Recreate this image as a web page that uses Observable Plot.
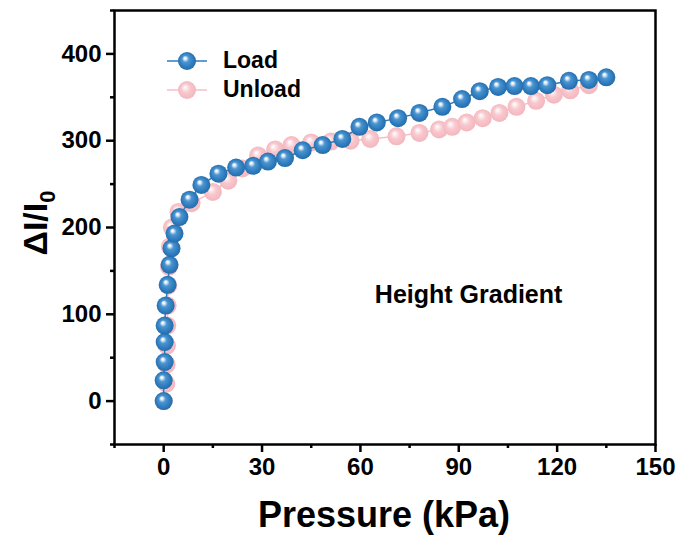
<!DOCTYPE html>
<html>
<head>
<meta charset="utf-8">
<script src="https://cdn.jsdelivr.net/npm/d3@7"></script>
<script src="https://cdn.jsdelivr.net/npm/@observablehq/plot@0.6"></script>
<style>
  html, body { margin: 0; padding: 0; background: #fff; }
  #wrap { position: relative; width: 678px; height: 542px; font-family: "Liberation Sans", Arial, sans-serif; }
  #legend { position: absolute; left: 165px; top: 46px; font-weight: bold; font-size: 23px; color: #000; }
  .lg-row { display: flex; align-items: center; height: 29px; }
  .lg-row svg { margin-right: 14px; }
</style>
</head>
<body>
<div id="wrap">
  <div id="chart"></div>
  <div id="legend"></div>
</div>
<script>
// ---- data ----
const loadPressure = [0,0,0.3,0.3,0.3,0.6,1.2,1.8,2.4,3.3,4.8,7.9,11.5,16.7,22.1,27.3,31.8,37,42.4,48.5,54.5,59.7,65,71.5,78,85,91,96.4,102,107,112,117,123.6,129.7,135];
const loadResponse = [0,24,45,68,87,110,134,157,176,193,212,232,249,262,269,271,276,280,289,295,302,316,321,326,332,339,348,357,362,363,363,364,369,370,373];
const unloadPressure = [0,0.8,0.9,1.0,1.1,1.2,1.4,1.6,1.9,2.5,4.5,8.5,15,19.7,24,28.8,34,39,45,51,57,63,71,78,84,88,92.4,97.3,102.4,107.6,113.6,119,124,129.7];
const unloadResponse = [0,20,42,64,87,110,133,155,178,200,218,228,241,254,268,283,290,295,298,299,300,302,305,309,313,316,321,326,332,339,346,353,358,364];
const seriesNames = ["Load", "Unload"];
const xTicks = [0,30,60,90,120,150];
const xMinorTicks = [-15,15,45,75,105,135];
const yTicks = [0,100,200,300,400];
const yMinorTicks = [-50,50,150,250,350,450];
const annotation = [{label: "Height Gradient", x: 93, y: 122}];

const colors = {Load: "#2e7cbf", Unload: "#f6bfc6"};
const grads = {Load: "gLoad", Unload: "gUnload"};
const gradStops = {
  Load: [["0%", "#ffffff"], ["12%", "#e6f0fa"], ["35%", "#4b95d0"], ["70%", "#2e7cbf"], ["100%", "#23679f"]],
  Unload: [["0%", "#ffffff"], ["15%", "#fdeef0"], ["45%", "#f8c8ce"], ["100%", "#f3b3bb"]]
};

const loadData = loadPressure.map((p, i) => ({p, v: loadResponse[i]}));
const unloadData = unloadPressure.map((p, i) => ({p, v: unloadResponse[i]}));

const tickFont = {fontSize: 24, fontWeight: "bold", fontFamily: "'Liberation Sans Narrow', 'Arial Narrow', 'Liberation Sans', Arial, sans-serif"};

const chart = Plot.plot({
  width: 678,
  height: 542,
  marginLeft: 114,
  marginRight: 23,
  marginTop: 10,
  marginBottom: 98,
  style: {background: "#fff", color: "#000", fontFamily: "'Liberation Sans', Arial, sans-serif"},
  x: {domain: [-15, 150]},
  y: {domain: [-50, 450]},
  marks: [
    Plot.line(unloadData, {x: "p", y: "v", stroke: colors.Unload, strokeWidth: 1.5}),
    Plot.dot(unloadData, {x: "p", y: "v", r: 9, fill: `url(#${grads.Unload})`, stroke: "none"}),
    Plot.line(loadData, {x: "p", y: "v", stroke: colors.Load, strokeWidth: 1.5}),
    Plot.dot(loadData, {x: "p", y: "v", r: 9, fill: `url(#${grads.Load})`, stroke: "none"}),
    Plot.text(annotation, {x: "x", y: "y", text: "label", fontSize: 25, fontWeight: "bold", fill: "#000"}),
    Plot.frame({stroke: "#000", strokeWidth: 2.5}),
    Plot.axisX({ticks: xTicks, tickSize: 8, tickPadding: 5, strokeWidth: 2.5, label: null, ...tickFont}),
    Plot.axisX({ticks: xMinorTicks, tickSize: 4, strokeWidth: 2.5, text: null, label: null}),
    Plot.axisY({ticks: yTicks, tickSize: 8, tickPadding: 5, strokeWidth: 2.5, label: null, ...tickFont}),
    Plot.axisY({ticks: yMinorTicks, tickSize: 4, strokeWidth: 2.5, text: null, label: null})
  ]
});

// sphere-like gradients
const svg = d3.select(chart);
const defs = svg.insert("defs", ":first-child");
function addGrad(sel, id, stops) {
  const g = sel.append("radialGradient").attr("id", id)
    .attr("cx", "50%").attr("cy", "50%").attr("r", "55%")
    .attr("fx", "38%").attr("fy", "33%");
  stops.forEach(([o, c]) => g.append("stop").attr("offset", o).attr("stop-color", c));
}
seriesNames.forEach(n => addGrad(defs, grads[n], gradStops[n]));

// axis titles
svg.append("text")
  .attr("x", 384).attr("y", 527)
  .attr("text-anchor", "middle")
  .attr("font-size", 36).attr("font-weight", "bold")
  .attr("font-family", "'Liberation Sans', Arial, sans-serif")
  .text("Pressure (kPa)");
const yl = svg.append("text")
  .attr("transform", "translate(47,223) rotate(-90)")
  .attr("text-anchor", "middle")
  .attr("font-size", 34).attr("font-weight", "bold")
  .attr("font-family", "'Liberation Sans', Arial, sans-serif");
yl.append("tspan").text("ΔI/I");
yl.append("tspan").attr("font-size", 22).attr("dy", 8).text("0");

document.getElementById("chart").appendChild(chart);

// legend
const legend = d3.select("#legend");
seriesNames.forEach(name => {
  const row = legend.append("div").attr("class", "lg-row");
  const s = row.append("svg").attr("width", 44).attr("height", 22);
  addGrad(s.append("defs"), "lg" + name, gradStops[name]);
  s.append("line").attr("x1", 2).attr("x2", 42).attr("y1", 11).attr("y2", 11)
    .attr("stroke", colors[name]).attr("stroke-width", 1.5);
  s.append("circle").attr("cx", 22).attr("cy", 11).attr("r", 9).attr("fill", `url(#lg${name})`);
  row.append("span").text(name);
});
</script>
</body>
</html>
